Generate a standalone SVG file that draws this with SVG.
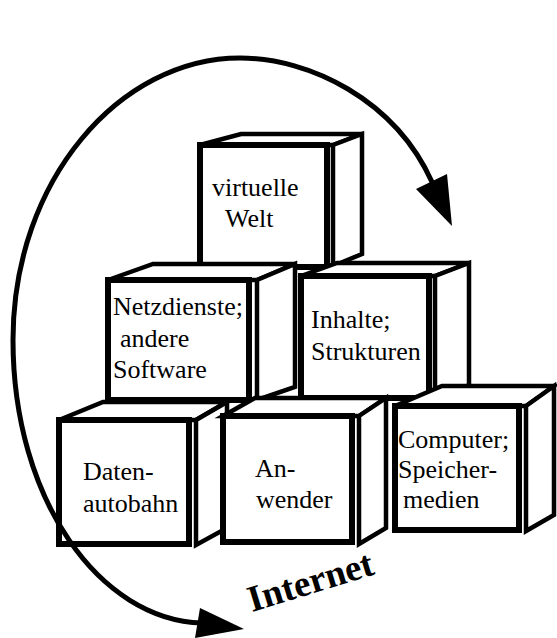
<svg xmlns="http://www.w3.org/2000/svg" width="557" height="638" viewBox="0 0 557 638">
  <style>
    .front { fill: #fff; stroke: #000; stroke-width: 6; }
    .face { fill: #fff; stroke: #000; stroke-width: 4.5; stroke-linejoin: miter; }
    .lbl { font-family: "Liberation Serif", "Times New Roman", serif; font-size: 26px; fill: #000; }
    .arc { fill: none; stroke: #000; stroke-width: 5; }
    .head { fill: #000; }
    .title { font-family: "Liberation Serif", "Times New Roman", serif; font-size: 37px; font-weight: bold; fill: #000; }
  </style>

  <!-- top row -->
  <g id="cube-virtuelle-welt">
    <polygon class="face" points="200,145 241,134 362,134 333,145"/>
    <polygon class="face" points="333,145 362,134 362,254 333,266"/>
    <rect class="front" x="200" y="145" width="127" height="122"/>
    <text class="lbl" x="212" y="196">virtuelle</text>
    <text class="lbl" x="225" y="227">Welt</text>
  </g>

  <!-- middle row -->
  <g id="cube-netzdienste">
    <polygon class="face" points="108,280 153,264 295,264 257,280"/>
    <polygon class="face" points="257,280 295,264 295,387 257,400"/>
    <rect class="front" x="108" y="280" width="141" height="120"/>
    <text class="lbl" x="113" y="315">Netzdienste;</text>
    <text class="lbl" x="120" y="347">andere</text>
    <text class="lbl" x="113" y="378">Software</text>
  </g>

  <g id="cube-inhalte">
    <polygon class="face" points="301,276 337,263 469,263 435,276"/>
    <polygon class="face" points="435,276 469,263 469,385 435,398"/>
    <rect class="front" x="301" y="276" width="128" height="122"/>
    <text class="lbl" x="311" y="328">Inhalte;</text>
    <text class="lbl" x="311" y="360">Strukturen</text>
  </g>

  <!-- bottom row -->
  <g id="cube-datenautobahn">
    <polygon class="face" points="59,420 103,402 227,402 196,420"/>
    <polygon class="face" points="196,420 227,402 227,528 196,545"/>
    <rect class="front" x="59" y="420" width="130" height="124"/>
    <text class="lbl" x="83" y="480">Daten-</text>
    <text class="lbl" x="83" y="512">autobahn</text>
  </g>

  <g id="cube-anwender">
    <polygon class="face" points="223,416 255,398 386,398 359,416"/>
    <polygon class="face" points="359,416 386,398 386,528 359,544"/>
    <rect class="front" x="223" y="416" width="129" height="126"/>
    <text class="lbl" x="255" y="477">An-</text>
    <text class="lbl" x="256" y="508">wender</text>
  </g>

  <g id="cube-computer">
    <polygon class="face" points="395,406 442,386 554,386 526,406"/>
    <polygon class="face" points="526,406 554,386 554,515 526,531"/>
    <rect class="front" x="395" y="406" width="124" height="124"/>
    <text class="lbl" x="398" y="448">Computer;</text>
    <text class="lbl" x="398" y="478">Speicher-</text>
    <text class="lbl" x="403" y="508">medien</text>
  </g>

  <!-- circular flow around the stack -->
  <g id="connectors">
    <path class="arc" d="M 432,182 C 395,100 310,58 240,58 C 120,58 13,180 13,340 C 13,500 100,620 202,623"/>
    <polygon class="head" points="452,226 416,189 447,174"/>
    <polygon class="head" points="244,629 200,608 195,638"/>
  </g>

  <text class="title" transform="translate(252,612) rotate(-17)">Internet</text>
</svg>
